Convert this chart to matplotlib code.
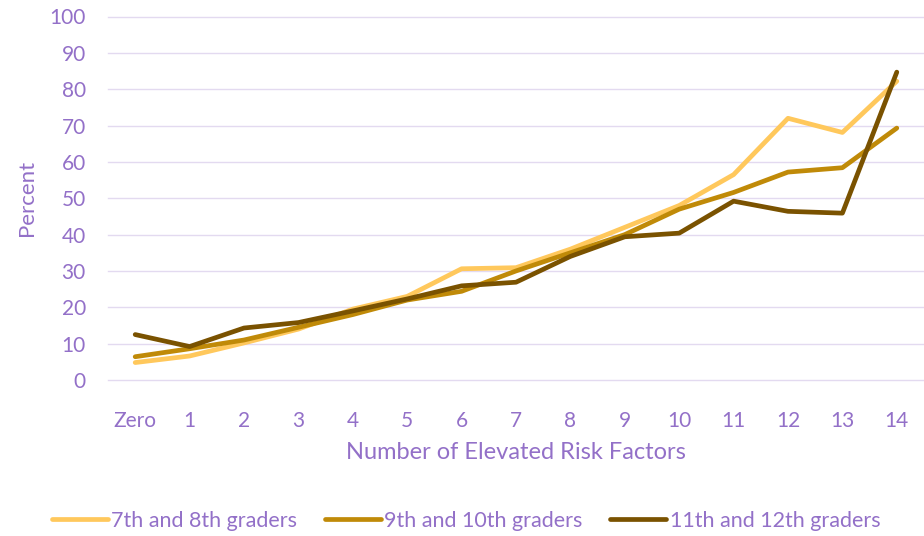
"""Percent by number of elevated risk factors, by grade group."""

import matplotlib
matplotlib.use("Agg")
import matplotlib.pyplot as plt

CATEGORIES = ["Zero", "1", "2", "3", "4", "5", "6", "7", "8", "9", "10",
              "11", "12", "13", "14"]
GRADES_7_8 = [4.8, 6.6, 10.2, 14.0, 19.5, 23.0, 30.6, 30.9, 36.0, 42.0,
              48.0, 56.5, 72.0, 68.1, 82.2]
GRADES_9_10 = [6.4, 8.6, 11.0, 14.5, 18.0, 22.0, 24.4, 30.0, 35.0, 40.0,
               47.0, 51.6, 57.2, 58.4, 69.3]
GRADES_11_12 = [12.5, 9.2, 14.3, 15.8, 19.0, 22.3, 25.9, 26.9, 34.0, 39.4,
                40.4, 49.2, 46.4, 45.9, 84.7]
SERIES_LABELS = ["7th and 8th graders", "9th and 10th graders",
                 "11th and 12th graders"]
Y_TICKS = list(range(0, 101, 10))

TEXT_COLOR = "#9370c8"
GRID_COLOR = "#e3daf0"
LINE_COLORS = ["#ffc85c", "#c08a08", "#7a5200"]

plt.rcParams.update(
    {
        "font.family": ["Lato", "DejaVu Sans"],
        "font.size": 15,
    }
)

fig = plt.figure(figsize=(9.24, 5.36), dpi=100)
ax = fig.add_axes([108 / 924, 1 - 380 / 536, 1 - 108 / 924, (380 - 16.5) / 536])

x = range(len(CATEGORIES))
for values, color, label in zip(
    [GRADES_7_8, GRADES_9_10, GRADES_11_12], LINE_COLORS, SERIES_LABELS
):
    ax.plot(x, values, color=color, linewidth=3.4, label=label,
            solid_capstyle="round", solid_joinstyle="round", clip_on=False)

ax.set_xlim(-0.5, len(CATEGORIES) - 0.5)
ax.set_ylim(0, 100)
ax.set_yticks(Y_TICKS)
ax.set_xticks(list(x))
ax.set_xticklabels(CATEGORIES)
ax.grid(axis="y", color=GRID_COLOR, linewidth=1, clip_on=False)
ax.set_axisbelow(True)
for side in ["top", "right", "left", "bottom"]:
    ax.spines[side].set_visible(False)
ax.tick_params(axis="y", length=0, pad=16, colors=TEXT_COLOR, labelsize=15)
ax.tick_params(axis="x", length=0, pad=22, colors=TEXT_COLOR, labelsize=15)

ax.set_ylabel("Percent", color=TEXT_COLOR, fontsize=16, labelpad=9)
ax.set_xlabel("Number of Elevated Risk Factors", color=TEXT_COLOR,
              fontsize=17, labelpad=8)

leg = fig.legend(
    loc="center",
    bbox_to_anchor=(466 / 924, 1 - 521 / 536),
    ncol=3,
    frameon=False,
    handlelength=2.6,
    handletextpad=0.15,
    columnspacing=1.3,
    fontsize=15.5,
)
for text in leg.get_texts():
    text.set_color(TEXT_COLOR)

fig.savefig("out.png", dpi=100)
